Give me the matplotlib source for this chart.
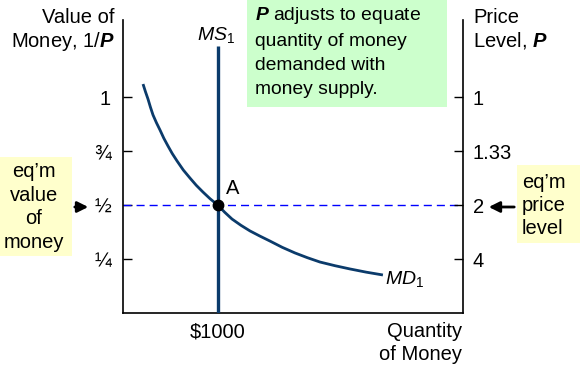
import matplotlib
matplotlib.use('Agg')
import matplotlib.pyplot as plt
from matplotlib.patches import Rectangle, FancyArrowPatch

plt.rcParams['font.family'] = ['Liberation Sans', 'DejaVu Sans']
plt.rcParams['mathtext.fontset'] = 'custom'
plt.rcParams['mathtext.rm'] = 'Liberation Sans'
plt.rcParams['mathtext.it'] = 'Liberation Sans:italic'
plt.rcParams['mathtext.bf'] = 'Liberation Sans:italic:bold'

# ---- data ----
value_ticks = [1.0, 0.75, 0.5, 0.25]
value_labels = ['1', '¾', '½', '¼']
price_labels = ['1', '1.33', '2', '4']
quantity_ticks = [1000]
quantity_labels = [r'\$1000']
md_quantity = [214, 240, 266, 292, 319, 355, 393, 433, 477, 522, 572, 638, 708, 775, 845, 920,
               1000, 1075, 1151, 1245, 1340, 1445, 1551, 1680, 1814, 1945, 2077, 2235, 2392, 2565, 2740]
md_value = [1.060, 1.024, 0.991, 0.953, 0.917, 0.881, 0.847, 0.809, 0.773, 0.738, 0.704, 0.662,
            0.625, 0.591, 0.560, 0.529, 0.5, 0.466, 0.435, 0.406, 0.380, 0.356, 0.333, 0.304,
            0.278, 0.256, 0.236, 0.219, 0.204, 0.189, 0.176]
ms_quantity = 1000
ms_value_range = [0, 1.236]
eq_quantity = 1000
eq_value = 0.5

NAVY = '#0b3b6b'
W, H = 580, 365
fig = plt.figure(figsize=(5.8, 3.65), dpi=100)


def fx(px):
    return px / W


def fy(py):
    return 1 - py / H


ax = fig.add_axes([fx(122.7), fy(313), fx(462.7) - fx(122.7), fy(20) - fy(313)])
ax.set_xlim(0, 3580)
ax.set_ylim(0, 1.3565)
for s in ['left', 'right', 'bottom']:
    ax.spines[s].set_linewidth(1.2)
ax.spines['top'].set_visible(False)

ax.plot(md_quantity, md_value, color=NAVY, lw=2.0, solid_capstyle='butt', solid_joinstyle='round', zorder=3)
ax.plot([ms_quantity, ms_quantity], ms_value_range, color=NAVY, lw=2.4, solid_capstyle='butt', zorder=3)
ax.axhline(eq_value, color='#0000ff', lw=1.0, ls=(0, (5.8, 3.6)), zorder=2)
ax.plot([eq_quantity], [eq_value], 'o', color='black', ms=7.5, zorder=5)

ax.set_yticks(value_ticks)
ax.set_yticklabels(value_labels)
ax.tick_params(axis='y', direction='in', length=6.8, width=1.0, pad=8.5, labelsize=14.5)
ax.set_xticks(quantity_ticks)
ax.set_xticklabels(quantity_labels)
ax.tick_params(axis='x', length=0, pad=6.5, labelsize=14.5)

ax2 = ax.twinx()
ax2.set_ylim(ax.get_ylim())
for s in ax2.spines.values():
    s.set_visible(False)
ax2.set_yticks(value_ticks)
ax2.set_yticklabels(price_labels)
ax2.tick_params(axis='y', direction='in', length=6.8, width=1.0, pad=7.2, labelsize=14.5)

FS = 14.5
fig.text(fx(115), fy(8), 'Value of\nMoney, 1/$\\mathbf{P}$', ha='right', va='top', fontsize=FS,
         multialignment='right')
fig.text(fx(473), fy(8), 'Price\nLevel, $\\mathbf{P}$', ha='left', va='top', fontsize=FS)
fig.text(fx(462), fy(322), 'Quantity\nof Money', ha='right', va='top', fontsize=FS,
         multialignment='right', linespacing=1.3)
fig.text(fx(216), fy(35), r'$\mathit{MS}_{\mathrm{1}}$', ha='center', va='center', fontsize=14)
fig.text(fx(385), fy(279), r'$\mathit{MD}_{\mathrm{1}}$', ha='left', va='center', fontsize=14)
fig.text(fx(233), fy(189), 'A', ha='center', va='center', fontsize=FS)

# green note
fig.patches.append(Rectangle((fx(247), fy(107)), fx(447) - fx(247), fy(0) - fy(107),
                             transform=fig.transFigure, facecolor='#ccffcc', edgecolor='none', zorder=0))
fig.text(fx(255), fy(5), '$\\mathbf{P}$ adjusts to equate\nquantity of money\ndemanded with\nmoney supply.',
         ha='left', va='top', fontsize=13.9, linespacing=1.54)

# yellow notes
fig.patches.append(Rectangle((fx(0), fy(256)), fx(72), fy(157) - fy(256),
                             transform=fig.transFigure, facecolor='#ffffcc', edgecolor='none', zorder=0))
fig.text(fx(34), fy(207), 'eq’m\nvalue\nof\nmoney', ha='center', va='center', fontsize=FS,
         multialignment='center', linespacing=1.29)
fig.patches.append(Rectangle((fx(517), fy(243)), fx(580) - fx(517), fy(165) - fy(243),
                             transform=fig.transFigure, facecolor='#ffffcc', edgecolor='none', zorder=0))
fig.text(fx(522), fy(205.5), 'eq’m\nprice\nlevel', ha='left', va='center', fontsize=FS, linespacing=1.29)

fig.patches.append(FancyArrowPatch((fx(72), fy(207)), (fx(91), fy(207)), transform=fig.transFigure,
                                   arrowstyle='-|>', mutation_scale=16, color='black', lw=2))
fig.patches.append(FancyArrowPatch((fx(517), fy(207)), (fx(486), fy(207)), transform=fig.transFigure,
                                   arrowstyle='-|>', mutation_scale=16, color='black', lw=2))

fig.savefig('out.png', dpi=100)
